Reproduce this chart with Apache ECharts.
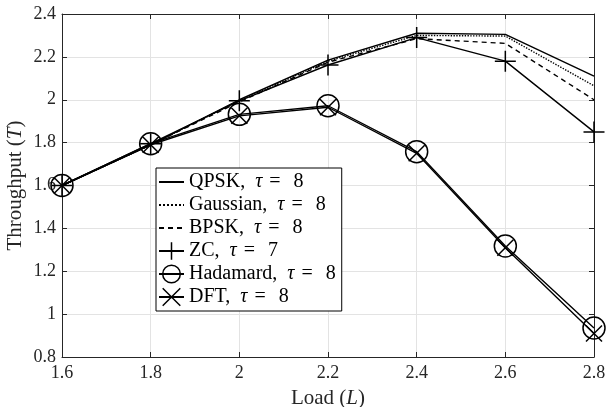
<!DOCTYPE html>
<html>
<head>
<meta charset="utf-8">
<script src="https://cdn.jsdelivr.net/npm/echarts@6/dist/echarts.min.js"></script>
<style>
  html, body { margin: 0; padding: 0; background: #fff; }
  #chart { width: 608px; height: 407px; }
</style>
</head>
<body>
<div id="chart"></div>
<script>
// load values (x axis)
var load = [1.6, 1.8, 2.0, 2.2, 2.4, 2.6, 2.8];

// throughput per sequence type
var qpsk     = [1.60, 1.79, 2.00, 2.185, 2.31, 2.305, 2.11];
var gaussian = [1.60, 1.79, 1.995, 2.18, 2.30, 2.297, 2.065];
var bpsk     = [1.60, 1.79, 1.99, 2.175, 2.285, 2.263, 2.00];
var zc       = [1.60, 1.795, 1.995, 2.162, 2.29, 2.18, 1.85];
var hadamard = [1.60, 1.795, 1.932, 1.972, 1.758, 1.318, 0.935];
var dft      = [1.60, 1.79, 1.925, 1.965, 1.75, 1.31, 0.91];

var names = ["QPSK", "Gaussian", "BPSK", "ZC", "Hadamard", "DFT"];
var taus = [8, 8, 8, 7, 8, 8];

var FONT = "Liberation Serif";

function pairs(ys) {
  return load.map(function (x, i) { return [x, ys[i]]; });
}

var plusPath = "path://M0,-10 L0,10 M-10,0 L10,0";
var crossPath = "path://M-10,-10 L10,10 M-10,10 L10,-10";

function lineSeries(name, ys, type, symbol, size) {
  return {
    name: name,
    type: "line",
    data: pairs(ys),
    symbol: symbol || "none",
    symbolSize: size || 0,
    showSymbol: !!symbol,
    lineStyle: { color: "#000", width: 1.4, type: type },
    itemStyle: { color: "transparent", borderColor: "#000", borderWidth: 1.5 },
    emphasis: { disabled: true },
    animation: false,
  };
}

// legend entries: lines without markers get no symbol border
var legendData = names.map(function (n, i) {
  return i < 3 ? { name: n, itemStyle: { borderWidth: 0, opacity: 0 } } : { name: n };
});

var dom = document.getElementById("chart");
var myChart = echarts.init(dom, null, { renderer: "canvas" });

var axisLine = { show: true, lineStyle: { color: "#262626", width: 1 } };
var tick = { show: true, inside: true, length: 5, lineStyle: { color: "#262626" } };
var nameRich = {
  a: { fontFamily: FONT, fontSize: 21, color: "#262626" },
  i: { fontFamily: FONT, fontSize: 21, fontStyle: "italic", color: "#262626" },
};

var option = {
  backgroundColor: "#fff",
  grid: { left: 62, right: 14, top: 14, bottom: 50, outerBoundsMode: "none" },
  legend: {
    orient: "vertical",
    left: 156,
    top: 168,
    itemWidth: 25,
    itemHeight: 22,
    itemGap: 3,
    padding: [4, 6, 4, 2],
    borderColor: "#000",
    borderWidth: 1,
    backgroundColor: "#fff",
    itemStyle: { borderWidth: 1.5 },
    textStyle: {
      fontFamily: FONT,
      fontSize: 20,
      color: "#000",
      rich: {
        a: { fontFamily: FONT, fontSize: 20, color: "#000" },
        i: { fontFamily: FONT, fontSize: 20, fontStyle: "italic", color: "#000", padding: [0, 7, 0, 10] },
        e: { fontFamily: FONT, fontSize: 20, color: "#000", padding: [0, 13, 0, 0] },
      },
    },
    formatter: function (name) {
      var k = names.indexOf(name);
      return "{a|" + name + ",}{i|\u03c4}{e|=}{a|" + taus[k] + "}";
    },
    data: legendData,
  },
  xAxis: [
    {
      type: "value",
      min: 1.6,
      max: 2.8,
      interval: 0.2,
      name: "{a|Load (}{i|L}{a|)}",
      nameLocation: "middle",
      nameGap: 31,
      nameTextStyle: { rich: nameRich },
      axisLine: axisLine,
      axisTick: tick,
      axisLabel: { fontFamily: FONT, fontSize: 18, color: "#262626", margin: 7 },
      splitLine: { show: true, lineStyle: { color: "#e3e3e3", width: 1 } },
    },
    {
      type: "value",
      position: "top",
      min: 1.6,
      max: 2.8,
      interval: 0.2,
      axisLine: axisLine,
      axisTick: tick,
      axisLabel: { show: false },
      splitLine: { show: false },
    },
  ],
  yAxis: [
    {
      type: "value",
      min: 0.8,
      max: 2.4,
      interval: 0.2,
      name: "{a|Throughput (}{i|T}{a|)}",
      nameLocation: "middle",
      nameGap: 36,
      nameMoveOverlap: false,
      nameTextStyle: { rich: nameRich },
      axisLine: axisLine,
      axisTick: tick,
      axisLabel: { fontFamily: FONT, fontSize: 18, color: "#262626", margin: 6 },
      splitLine: { show: true, lineStyle: { color: "#e3e3e3", width: 1 } },
    },
    {
      type: "value",
      position: "right",
      min: 0.8,
      max: 2.4,
      interval: 0.2,
      axisLine: axisLine,
      axisTick: tick,
      axisLabel: { show: false },
      splitLine: { show: false },
    },
  ],
  series: [
    lineSeries("QPSK", qpsk, "solid"),
    lineSeries("Gaussian", gaussian, "dotted"),
    lineSeries("BPSK", bpsk, [5, 4]),
    lineSeries("ZC", zc, "solid", plusPath, 21),
    lineSeries("Hadamard", hadamard, "solid", "circle", 22),
    lineSeries("DFT", dft, "solid", crossPath, 16),
  ],
};

myChart.setOption(option);
window.addEventListener("resize", myChart.resize);
</script>
</body>
</html>
